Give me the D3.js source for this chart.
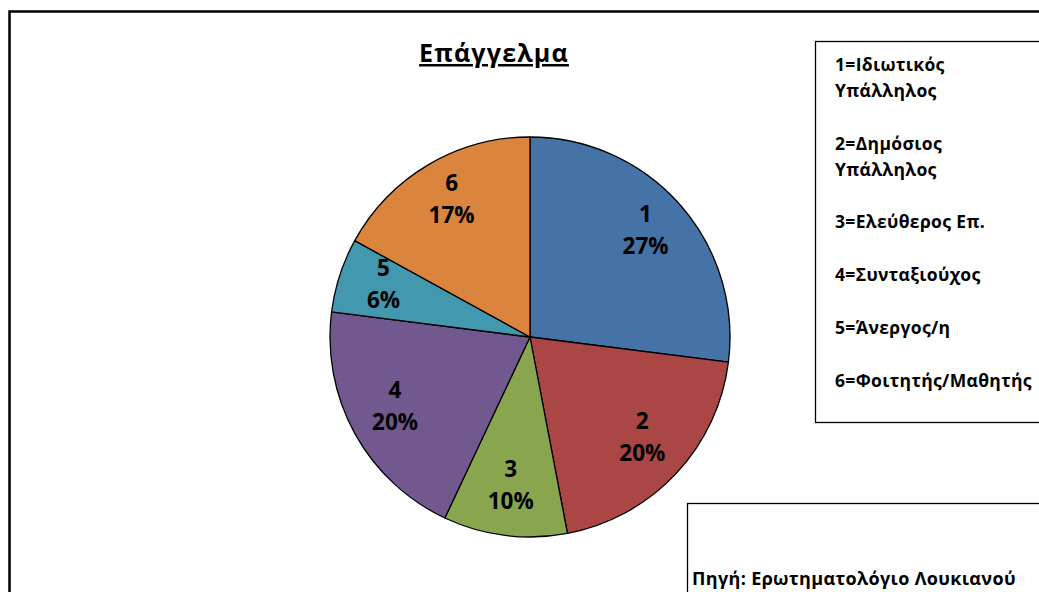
<!DOCTYPE html>
<html>
<head>
<meta charset="utf-8">
<script src="https://cdn.jsdelivr.net/npm/d3@7"></script>
<style>
  html, body { margin: 0; padding: 0; background: #fff; }
  svg { display: block; font-family: "Open Sans", "Noto Sans", sans-serif; font-weight: bold; }
</style>
</head>
<body>
<svg id="chart" width="1039" height="592"></svg>
<script>
// Occupation breakdown (percent of respondents)
const categories = ["1", "2", "3", "4", "5", "6"];
const percents   = [27, 20, 10, 20, 6, 17];
const colors     = ["#4572A7", "#AA4643", "#89A54E", "#71588F", "#4198AF", "#DB843D"];
const legendLines = [
  ["1=Ιδιωτικός", "Υπάλληλος"],
  ["2=Δημόσιος", "Υπάλληλος"],
  ["3=Ελεύθερος Επ."],
  ["4=Συνταξιούχος"],
  ["5=Άνεργος/η"],
  ["6=Φοιτητής/Μαθητής"]
];
const title = "Επάγγελμα";
const sourceText = "Πηγή: Ερωτηματολόγιο Λουκιανού";

const svg = d3.select("#chart");

// outer chart frame (runs off the right and bottom edges)
svg.append("rect")
  .attr("x", 9.5).attr("y", 11.5)
  .attr("width", 1100).attr("height", 700)
  .attr("fill", "#fff").attr("stroke", "#000").attr("stroke-width", 2.5);

// title
svg.append("text")
  .attr("x", 494).attr("y", 62)
  .attr("text-anchor", "middle")
  .attr("font-size", 25)
  .attr("letter-spacing", 1.2)
  .attr("text-decoration", "underline")
  .text(title);

// pie
const cx = 530, cy = 337, R = 200;
const data = categories.map((c, i) => ({ cat: c, value: percents[i], color: colors[i] }));
const pie = d3.pie().sort(null).value(d => d.value);
const arc = d3.arc().innerRadius(0).outerRadius(R);
const labelArc = d3.arc().innerRadius(R * 0.77).outerRadius(R * 0.77);

const g = svg.append("g").attr("transform", `translate(${cx},${cy})`);
const arcs = pie(data);

g.selectAll("path.slice")
  .data(arcs)
  .join("path")
  .attr("class", "slice")
  .attr("d", arc)
  .attr("fill", d => d.data.color)
  .attr("stroke", "#000")
  .attr("stroke-width", 1.3)
  .attr("stroke-linejoin", "round");

const labels = g.selectAll("text.lbl")
  .data(arcs)
  .join("text")
  .attr("class", "lbl")
  .attr("text-anchor", "middle")
  .attr("font-size", 22.5)
  .attr("transform", d => `translate(${labelArc.centroid(d)})`);
labels.append("tspan").attr("x", 0).attr("y", -13).text(d => d.data.cat);
labels.append("tspan").attr("x", 0).attr("y", 19).text(d => d.data.value + "%");

// legend box
svg.append("rect")
  .attr("x", 815.5).attr("y", 41.5)
  .attr("width", 300).attr("height", 381)
  .attr("fill", "#fff").attr("stroke", "#000").attr("stroke-width", 1.3);

const legendTop = [71, 150, 228, 281, 334, 387];
const lg = svg.append("g").attr("font-size", 17.5).attr("letter-spacing", 0.35);
legendLines.forEach((lines, i) => {
  lines.forEach((t, j) => {
    lg.append("text")
      .attr("x", 835)
      .attr("y", legendTop[i] + j * 26)
      .text(t);
  });
});

// source box
svg.append("rect")
  .attr("x", 687.5).attr("y", 503.5)
  .attr("width", 400).attr("height", 200)
  .attr("fill", "#fff").attr("stroke", "#000").attr("stroke-width", 1.3);

svg.append("text")
  .attr("x", 692).attr("y", 585)
  .attr("font-size", 18)
  .attr("letter-spacing", 0.35)
  .text(sourceText);
</script>
</body>
</html>
